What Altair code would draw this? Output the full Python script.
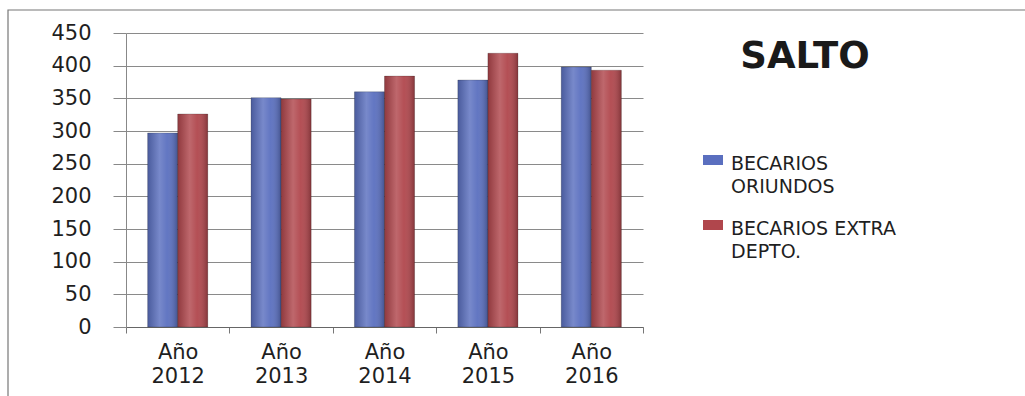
import altair as alt
import pandas as pd

years = ["Año 2012", "Año 2013", "Año 2014", "Año 2015", "Año 2016"]
series = ["BECARIOS ORIUNDOS", "BECARIOS EXTRA DEPTO."]
oriundos = [297, 351, 360, 378, 398]
extra = [326, 349, 384, 419, 393]
y_ticks = [0, 50, 100, 150, 200, 250, 300, 350, 400, 450]
colors = ["#5a6fbf", "#b0464c"]
title_text = "SALTO"

rows = []
for i, yr in enumerate(years):
    rows.append({"year": yr, "series": series[0], "value": oriundos[i]})
    rows.append({"year": yr, "series": series[1], "value": extra[i]})
df = pd.DataFrame(rows)

FONT = "DejaVu Sans"
TXT = "#1f1f1f"

x_axis = alt.Axis(
    title=None,
    labelAngle=0,
    labelExpr="split(datum.label, ' ')",
    labelFontSize=21,
    labelFont=FONT,
    labelColor=TXT,
    labelLineHeight=24,
    labelPadding=8,
    tickBand="extent",
    tickSize=6,
    tickColor="#777777",
    domainColor="#666666",
    grid=False,
)
y_axis = alt.Axis(
    title=None,
    values=y_ticks,
    labelOverlap=False,
    labelFontSize=21,
    labelFont=FONT,
    labelColor=TXT,
    labelPadding=22,
    tickSize=13,
    tickColor="#888888",
    gridColor="#8a8a8a",
    domainColor="#888888",
)
x_scale = alt.Scale(paddingInner=0, paddingOuter=0)
y_scale = alt.Scale(domain=[0, 450], nice=False)
xoff = alt.XOffset(
    "series:N",
    sort=series,
    scale=alt.Scale(domain=series, paddingInner=0, paddingOuter=0.72),
)

bars = alt.Chart(df).mark_bar(stroke="#00000033", strokeWidth=1).encode(
    x=alt.X("year:N", sort=years, scale=x_scale, axis=x_axis),
    xOffset=xoff,
    y=alt.Y("value:Q", scale=y_scale, axis=y_axis),
    color=alt.Color(
        "series:N",
        sort=series,
        scale=alt.Scale(domain=series, range=colors),
        legend=alt.Legend(
            title=None,
            orient="none",
            legendX=577,
            legendY=112,
            symbolType="M-1,0H1V1H-1Z",
            symbolSize=400,
            symbolStrokeWidth=0,
            labelFont=FONT,
            labelFontSize=19,
            labelColor=TXT,
            labelBaseline="top",
            labelOffset=8,
            labelExpr="datum.label == 'BECARIOS ORIUNDOS' ? ['BECARIOS', 'ORIUNDOS'] : ['BECARIOS EXTRA', 'DEPTO.']",
            rowPadding=13,
            labelLimit=300,
        ),
    ),
)

shine = alt.Chart(df).mark_bar(
    fill=alt.Gradient(
        gradient="linear",
        x1=0, x2=1, y1=0, y2=0,
        stops=[
            alt.GradientStop(color="rgba(0,0,0,0.18)", offset=0),
            alt.GradientStop(color="rgba(255,255,255,0.18)", offset=0.4),
            alt.GradientStop(color="rgba(255,255,255,0.05)", offset=0.65),
            alt.GradientStop(color="rgba(0,0,0,0.25)", offset=1),
        ],
    )
).encode(
    x=alt.X("year:N", sort=years, scale=x_scale, axis=x_axis),
    xOffset=xoff,
    y=alt.Y("value:Q", scale=y_scale, axis=y_axis),
)

title_df = pd.DataFrame({"t": [title_text]})
title = alt.Chart(title_df).mark_text(
    font=FONT, fontSize=37, fontWeight="bold", color="#1a1a1a", align="center", baseline="middle"
).encode(text="t:N", x=alt.value(679), y=alt.value(24))

frame = alt.Chart(title_df).mark_rect(fill=None, stroke="#777777", strokeWidth=1.2).encode(
    x=alt.value(-118), x2=alt.value(1000), y=alt.value(-23), y2=alt.value(600)
)

chart = alt.layer(frame, bars, shine, title).properties(
    width=517,
    height=294,
    padding={"left": 126, "top": 33, "right": 382, "bottom": 69},
    autosize=alt.AutoSizeParams(type="none"),
    background="#ffffff",
).configure(style={"guide-label": {"lineHeight": 23}}).configure_view(strokeWidth=0)

chart.save("out.html", embed_options={"renderer": "svg", "actions": False})
